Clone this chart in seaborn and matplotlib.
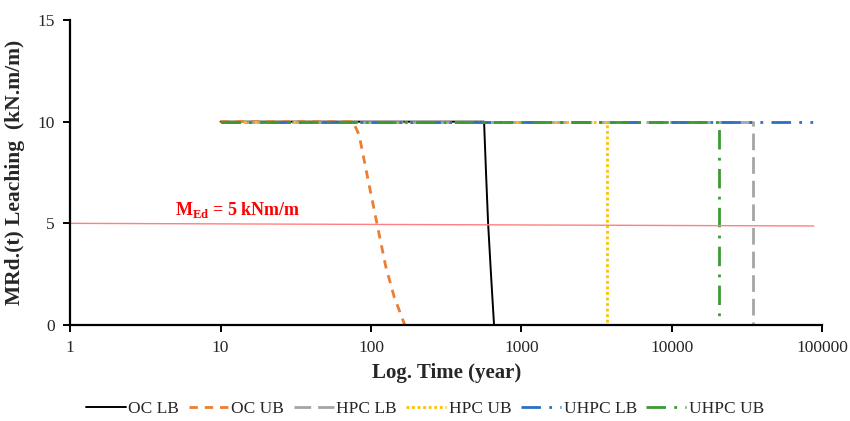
import numpy as np
import pandas as pd
import seaborn as sns
import matplotlib.pyplot as plt
from matplotlib.ticker import FixedLocator, FixedFormatter, NullLocator

# curvas de momento resistente (lixiviação)
oc_lb_x = [10, 564, 581, 600, 627, 657]
oc_lb_y = [10, 10, 7.5, 5, 2.5, 0]
oc_ub_x = [10, 76, 83.4, 95.7, 110, 125.4, 142.5, 167.6]
oc_ub_y = [10, 10, 9.34, 7.13, 4.92, 2.87, 1.39, 0]
hpc_lb_x = [10, 34800, 34800]
hpc_lb_y = [10, 10, 0]
hpc_ub_x = [10, 3700, 3700]
hpc_ub_y = [10, 10, 0]
uhpc_lb_x = [10, 88500]
uhpc_lb_y = [10, 10]
uhpc_ub_x = [10, 20400, 20400]
uhpc_ub_y = [10, 10, 0]

# momento solicitante
med_x = [1, 87600]
med_y = [5, 4.87]

x_ticks = [1, 10, 100, 1000, 10000, 100000]
x_tick_labels = ['1', '10', '100', '1000', '10000', '100000']
y_ticks = [0, 5, 10, 15]

sns.set_theme(style='white')
plt.rcParams['font.family'] = ['Liberation Serif', 'DejaVu Serif']
plt.rcParams['mathtext.fontset'] = 'custom'
plt.rcParams['mathtext.rm'] = 'Liberation Serif'
plt.rcParams['mathtext.bf'] = 'Liberation Serif:bold'

fig = plt.figure(figsize=(8.5, 4.21), dpi=100)
ax = fig.add_axes([0.0824, 0.228, 0.8852, 0.7245])

series = [
    ('OC LB', oc_lb_x, oc_lb_y, 'black', '-', 1.4),
    ('OC UB', oc_ub_x, oc_ub_y, '#ED7D31', (0, (3, 2.5)), 2.0),
    ('HPC LB', hpc_lb_x, hpc_lb_y, '#A5A5A5', (0, (6, 2.5)), 2.0),
    ('HPC UB', hpc_ub_x, hpc_ub_y, '#FFC000', (0, (1, 1)), 2.0),
    ('UHPC LB', uhpc_lb_x, uhpc_lb_y, '#2E6FC4', (0, (7, 3, 1, 3, 1, 3)), 2.0),
    ('UHPC UB', uhpc_ub_x, uhpc_ub_y, '#3C9A33', (0, (7, 3, 1, 3)), 2.0),
]

for nome, xs, ys, cor, estilo, lw in series:
    sns.lineplot(x=xs, y=ys, ax=ax, color=cor, linestyle=estilo, linewidth=lw,
                 label=nome, estimator=None, sort=False)

sns.lineplot(x=med_x, y=med_y, ax=ax, color='#FF8080', linewidth=1.0,
             estimator=None, sort=False, legend=False)

ax.text(4.98, 5.4, r'M$_{\mathbf{Ed}}$ = 5 kNm/m', color='#FF0000',
        fontsize=13, fontweight='bold')

ax.set_xscale('log')
ax.set_xlim(1, 100000)
ax.set_ylim(0, 15)
ax.xaxis.set_major_locator(FixedLocator(x_ticks))
ax.xaxis.set_major_formatter(FixedFormatter(x_tick_labels))
ax.xaxis.set_minor_locator(NullLocator())
ax.set_yticks(y_ticks)

for lado in ['top', 'right']:
    ax.spines[lado].set_visible(False)
for lado in ['left', 'bottom']:
    ax.spines[lado].set_color('black')
    ax.spines[lado].set_linewidth(1.6)

ax.tick_params(axis='both', which='major', direction='out', length=5, width=1.4,
               color='black', labelsize=12.5, pad=6, bottom=True, left=True)

ax.set_xlabel('Log. Time (year)', fontsize=15, fontweight='bold', labelpad=5)
ax.set_ylabel('MRd.(t) Leaching  (kN.m/m)', fontsize=15.5, fontweight='bold', labelpad=9)

ax.legend(loc='center', bbox_to_anchor=(0.5, 0.029), bbox_transform=fig.transFigure,
          ncol=6, frameon=False, fontsize=12.5, handlelength=2.3, handletextpad=0.15,
          columnspacing=0.55)

plt.savefig('out.png', dpi=100)
